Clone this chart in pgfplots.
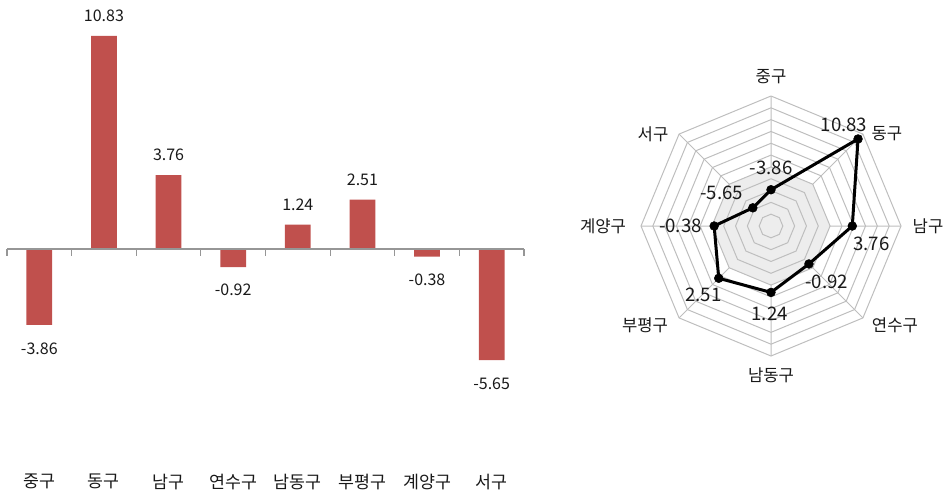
\documentclass[border=0pt]{standalone}
\usepackage{pgfplots}
\pgfplotsset{compat=1.18}
\usepgfplotslibrary{polar}
\usepackage{fontspec}
\setmainfont{Noto Sans CJK KR}
\definecolor{barred}{RGB}{192,80,77}
\definecolor{gridgray}{RGB}{190,190,190}
\definecolor{axgray}{RGB}{150,150,150}
\definecolor{txt}{RGB}{25,25,25}
\begin{document}
\begin{tikzpicture}
% ---------------- bar chart ----------------
\begin{axis}[
  name=bars,
  at={(0pt,0pt)}, anchor=south west,
  scale only axis,
  width=387.75pt, height=350.25pt,
  xmin=-0.5, xmax=7.5,
  ymin=-11.08, ymax=12.66,
  axis line style={draw=none},
  major tick length=0pt,
  ytick=\empty,
  xtick={0,...,7},
  xticklabels={중구,동구,남구,연수구,남동구,부평구,계양구,서구},
  xticklabel style={font=\fontsize{13pt}{15pt}\selectfont, text=txt, inner sep=3pt, yshift=-2pt},
  ybar, bar width=0.4,
  nodes near coords,
  point meta=explicit symbolic,
  visualization depends on={value \thisrow{anc} \as \myanc},
  visualization depends on={\thisrow{dy} \as \mydy},
  every node near coord/.append style={anchor=\myanc, yshift=\mydy pt, font=\fontsize{12pt}{14pt}\selectfont, text=txt, inner sep=9pt},
  clip=false,
]
\addplot[fill=barred, draw=none] table[x=x, y=y, meta=lab] {
x y lab anc dy
0 -3.86 -3.86 north -4
1 10.83 10.83 south 1.5
2 3.76 3.76 south 1.5
3 -0.92 -0.92 north -3.5
4 1.24 1.24 south 1.5
5 2.51 2.51 south 1.5
6 -0.38 -0.38 north -3.5
7 -5.65 -5.65 north -4
};
\draw[axgray, line width=1pt] (axis cs:-0.5,0) -- (axis cs:7.5,0);
\pgfplotsinvokeforeach{-0.5,0.5,...,7.5}{
  \draw[axgray, line width=0.8pt] (axis cs:#1,0) -- ++(0pt,-5pt);
}
\end{axis}
% ---------------- radar chart ----------------
\begin{polaraxis}[
  at={(573pt,180.75pt)}, anchor=center,
  scale only axis,
  width=195pt, height=195pt,
  ymin=0, ymax=22,
  y filter/.expression={y+10},
  ytick=\empty,
  xtick={0,45,90,135,180,225,270,315},
  xticklabels={},
  xmajorgrids, grid style={gridgray, line width=0.75pt},
  major tick length=0pt,
  axis line style={draw=none},
  clip=false,
]
\addplot[fill=black!7, draw=none] coordinates {(90,0) (45,0) (0,0) (315,0) (270,0) (225,0) (180,0) (135,0) (90,0)};
\pgfplotsinvokeforeach{-8,-6,...,12}{
  \addplot[gridgray, line width=0.75pt] coordinates {(90,#1) (45,#1) (0,#1) (315,#1) (270,#1) (225,#1) (180,#1) (135,#1) (90,#1)};
}
\addplot[black, line width=2.25pt, line join=round] coordinates {(90,-3.86) (45,10.83) (0,3.76) (315,-0.92) (270,1.24) (225,2.51) (180,-0.38) (135,-5.65) (90,-3.86)};
\addplot[only marks, mark=*, mark size=3.3pt, black,
  nodes near coords, point meta=explicit symbolic,
  visualization depends on={value \thisrow{anc} \as \myanc},
  visualization depends on={\thisrow{dx} \as \mydx},
  visualization depends on={\thisrow{dy} \as \mydy},
  every node near coord/.append style={anchor=\myanc, xshift=\mydx pt, yshift=\mydy pt, font=\fontsize{14pt}{16pt}\selectfont, text=txt, inner sep=6pt},
] table[x=a, y=v, meta=lab] {
a v lab anc dx dy
90 -3.86 -3.86 270 0 5
45 10.83 10.83 320 3 -1
0 3.76 3.76 135 3 -2
315 -0.92 -0.92 135 2 -2
270 1.24 1.24 90 -1 -4.5
225 2.51 2.51 50 -2 -1
180 -0.38 -0.38 0 -3 0
135 -5.65 -5.65 335 -1 1
};
\begin{scope}[every node/.style={font=\fontsize{12.5pt}{14pt}\selectfont, text=txt, inner sep=0pt, anchor=center}]
\node[yshift=14.25pt] at (axis cs:90,22) {중구};
\node[xshift=18pt] at (axis cs:45,22) {동구};
\node[xshift=20.25pt] at (axis cs:0,22) {남구};
\node[xshift=24pt, yshift=-5.25pt] at (axis cs:315,22) {연수구};
\node[yshift=-14.25pt] at (axis cs:270,22) {남동구};
\node[xshift=-25.5pt, yshift=-5.25pt] at (axis cs:225,22) {부평구};
\node[xshift=-28.5pt] at (axis cs:180,22) {계양구};
\node[xshift=-19.5pt] at (axis cs:135,22) {서구};
\end{scope}
\end{polaraxis}
\pgfresetboundingbox
\path[use as bounding box] (-5.25pt,-17.25pt) rectangle (705pt,350.25pt);
\end{tikzpicture}
\end{document}
